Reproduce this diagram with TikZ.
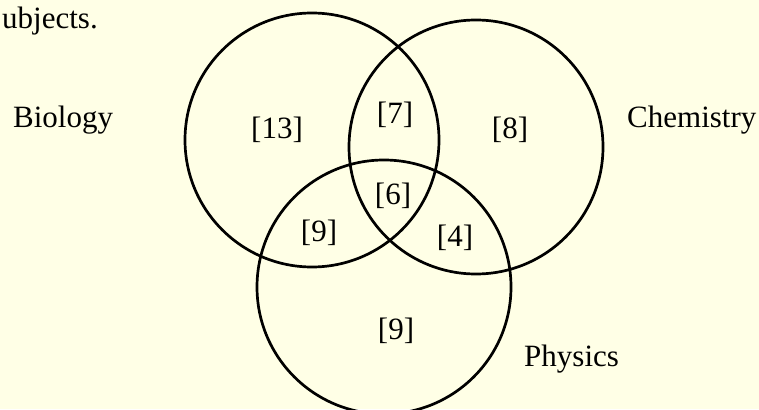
\documentclass[tikz,border=0pt]{standalone}
\usepackage{fontspec}
\setmainfont{Liberation Serif}
\definecolor{bgyellow}{RGB}{255,255,230}
\begin{document}
\begin{tikzpicture}[x=1pt,y=-1pt,
  setcircle/.style={draw=black,line width=2.7pt},
  lbl/.style={inner sep=0pt,anchor=base,font=\fontsize{31}{36}\selectfont},
  ttl/.style={inner sep=0pt,anchor=base west,font=\fontsize{31}{36}\selectfont}]
\fill[bgyellow] (0,0) rectangle (759,409);
\useasboundingbox (0,0) rectangle (759,409);
\begin{scope}
\clip (0,0) rectangle (759,409);
\draw[setcircle] (312,140) circle[radius=127];
\draw[setcircle] (476,147) circle[radius=127];
\draw[setcircle] (384,287) circle[radius=127];
\end{scope}
\node[ttl] (subj) at (2,29) {ubjects.};
\node[ttl] (bio) at (13,128) {Biology};
\node[ttl] (chem) at (627,128) {Chemistry};
\node[ttl] (phys) at (524,366) {Physics};
\node[lbl] (b13) at (277,138) {[13]};
\node[lbl] (bc7) at (395,123) {[7]};
\node[lbl] (c8) at (510,138) {[8]};
\node[lbl] (all6) at (393,204) {[6]};
\node[lbl] (bp9) at (319,241) {[9]};
\node[lbl] (cp4) at (455,246) {[4]};
\node[lbl] (p9) at (396,339) {[9]};
\end{tikzpicture}
\end{document}
